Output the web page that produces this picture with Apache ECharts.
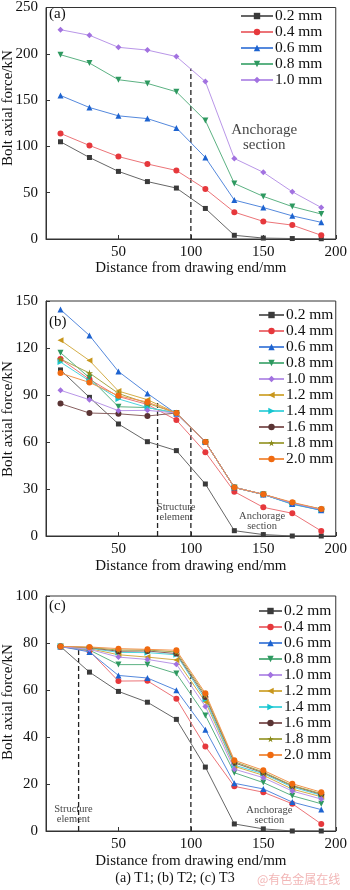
<!DOCTYPE html>
<html><head><meta charset="utf-8">
<script src="https://cdn.jsdelivr.net/npm/echarts@6/dist/echarts.min.js"></script>
<style>html,body{margin:0;padding:0;background:#fff}#c{width:350px;height:890px}</style>
</head><body><div id="c"></div>
<script>
const xs = [10, 30, 50, 70, 90, 110, 130, 150, 170, 190];
const namesA = ['0.2 mm','0.4 mm','0.6 mm','0.8 mm','1.0 mm'];
const namesBC = ['0.2 mm','0.4 mm','0.6 mm','0.8 mm','1.0 mm','1.2 mm','1.4 mm','1.6 mm','1.8 mm','2.0 mm'];

// Panel (a) T1
const a02 = [105, 88, 73, 62, 55, 33, 4, 1, 0.5, 0.3];
const a04 = [114, 101, 89, 81, 74, 54, 29, 19, 15, 4];
const a06 = [155, 142, 133, 130, 120, 88, 42, 34, 25, 18];
const a08 = [199, 190, 172, 168, 159, 128, 60, 46, 35, 27];
const a10 = [226, 220, 207, 204, 197, 170, 87, 72, 51, 34];

// Panel (b) T2
const b02 = [106, 88.5, 71.5, 60.2, 54.5, 33.2, 3.4, 0.9, 0, 0];
const b04 = [113, 100, 89, 84, 74, 53.5, 28.3, 18.3, 14.5, 3.2];
const b06 = [144.5, 128, 105, 91, 78, 60, 31, 26.5, 20.5, 16.4];
const b08 = [117, 101, 82.5, 82, 78.5, 60, 31, 26.5, 20.5, 16.6];
const b10 = [93, 87, 80, 80.2, 78.5, 60, 31, 26.6, 21, 17];
const b12 = [125, 112, 92.5, 87, 78.5, 60, 31, 26.6, 21, 17];
const b14 = [111, 99, 87.5, 82, 78.5, 60, 31, 26.5, 20.2, 16.4];
const b16 = [84.5, 78.5, 78, 76.6, 78.5, 60, 31, 26.6, 21, 17];
const b18 = [113, 104, 91, 84.7, 78.5, 60, 31, 26.6, 21, 17.2];
const b20 = [104, 98, 89.5, 85.5, 78.5, 60, 31, 26.6, 21.5, 17.2];

// Panel (c) T3
const c02 = [78.5, 67.6, 59.4, 54.8, 47.5, 27.2, 3, 0.9, 0, 0];
const c04 = [78.5, 76.6, 63.8, 63.9, 56.3, 36, 19, 16.5, 11.6, 3];
const c06 = [78.5, 76.2, 66.2, 65.1, 59.9, 43.1, 20.3, 17.9, 12.3, 9.1];
const c08 = [78.5, 77, 70.8, 70.8, 67, 49.2, 24.8, 20.6, 15, 11.6];
const c10 = [78.5, 77.3, 74, 73, 71, 53, 26.3, 22.7, 17, 13.6];
const c12 = [78.5, 77.6, 75, 74, 72.8, 55, 27.5, 23.7, 17.8, 14.6];
const c14 = [78.5, 77.8, 76, 75.9, 75, 56, 28, 24.4, 18.7, 15.2];
const c16 = [78.5, 78, 76.5, 76.6, 75.5, 57, 29, 24.8, 19.2, 15.6];
const c18 = [78.5, 78.1, 77, 77, 76.2, 57.8, 29.5, 25.1, 19.4, 15.9];
const c20 = [78.5, 78.3, 77.6, 77.3, 76.9, 58.6, 30.1, 25.8, 20.1, 16.5];

// y-axis ticks
const yMaxA = 250, yStepA = 50;
const yMaxB = 150, yStepB = 30;
const yMaxC = 100, yStepC = 20;

// dashed divider lines: [x, top value]
const dividersA = [[100, 184]];
const dividersB = [[77, 86], [100, 69]];
const dividersC = [[22.5, 78.3], [100, 68]];

// annotations: [x, y, text]
const notesA = [[150.6, 110, 'Anchorage\nsection']];
const notesB = [[89.8, 15.1, 'Structure\nelement'], [149.2, 9.5, 'Anchorage\nsection']];
const notesC = [[18.9, 7.2, 'Structure\nelement'], [154.2, 6.8, 'Anchorage\nsection']];

const STAR = 'path://M50,0 L61,35 L98,35 L68,57 L79,91 L50,70 L21,91 L32,57 L2,35 L39,35 Z';
const style = {
  '0.2 mm': {m:'#3a3a3a', l:'#666666', s:'rect', r:0, z:5},
  '0.4 mm': {m:'#e6383c', l:'#ec7478', s:'circle', r:0, z:6},
  '0.6 mm': {m:'#1d63d0', l:'#5589dd', s:'triangle', r:0, z:7},
  '0.8 mm': {m:'#2e9960', l:'#5cb283', s:'triangle', r:180, z:6},
  '1.0 mm': {m:'#a272e0', l:'#b996e8', s:'diamond', r:0, z:7},
  '1.2 mm': {m:'#c8961c', l:'#d4ae48', s:'triangle', r:90, z:6},
  '1.4 mm': {m:'#16c6d0', l:'#4ed5de', s:'triangle', r:-90, z:6},
  '1.6 mm': {m:'#5a3434', l:'#886060', s:'circle', r:0, z:6},
  '1.8 mm': {m:'#8a8a1a', l:'#a6a64a', s:STAR, r:0, z:6},
  '2.0 mm': {m:'#f06a10', l:'#f2944d', s:'circle', r:0, z:8}
};
const FONT = '"Liberation Serif", "Times New Roman", serif';
const AX = '#333';

const grids = [
  {left: 46, top: 4, width: 292, height: 235},
  {left: 46, top: 301, width: 292, height: 235},
  {left: 46, top: 596, width: 292, height: 235}
];

function xAxis(i) {
  return {
    gridIndex: i, type: 'value', min: 0, max: 200, interval: 50,
    name: 'Distance from drawing end/mm', nameLocation: 'middle', nameGap: i === 0 ? 22 : 23,
    nameTextStyle: {fontFamily: FONT, fontSize: 15, color: '#111'},
    axisLine: {lineStyle: {color: AX, width: 1}},
    axisTick: {inside: true, length: 4, lineStyle: {color: AX}},
    axisLabel: {showMinLabel: false, fontFamily: FONT, fontSize: 15, color: '#111', margin: 6},
    splitLine: {show: false}
  };
}
function yAxis(i, max, step) {
  return {
    gridIndex: i, type: 'value', min: 0, max: max, interval: step,
    axisLine: {show: true, lineStyle: {color: AX, width: 1}},
    axisTick: {inside: true, length: 4, lineStyle: {color: AX}},
    axisLabel: {fontFamily: FONT, fontSize: 15, color: '#111', margin: 8},
    splitLine: {show: false}
  };
}

const series = [];
function addData(i, names, arrays) {
  names.forEach((n, k) => {
    const st = style[n];
    series.push({
      type: 'line', name: n, xAxisIndex: i, yAxisIndex: i,
      data: xs.map((x, j) => [x, arrays[k][j]]),
      symbol: st.s, symbolRotate: st.r,
      symbolSize: st.s === 'rect' ? 5 : (st.s === STAR ? 7 : 6),
      lineStyle: {color: st.l, width: 1},
      itemStyle: {color: st.m},
      z: st.z, animation: false
    });
  });
}
function addDividers(i, divs) {
  divs.forEach(d => {
    series.push({
      type: 'line', xAxisIndex: i, yAxisIndex: i, data: [[d[0], 0], [d[0], d[1]]],
      symbol: 'none', silent: true, z: 3, animation: false,
      lineStyle: {color: '#222', width: 1.3, type: [5, 3]}
    });
  });
}
function addNotes(i, notes, fs) {
  series.push({
    type: 'scatter', xAxisIndex: i, yAxisIndex: i, symbolSize: 0, silent: true, animation: false,
    data: notes.map(n => ({value: [n[0], n[1]], label: {formatter: n[2]}})),
    label: {show: true, position: 'inside', fontFamily: FONT, fontSize: fs, lineHeight: fs, color: '#111', align: 'center'}
  });
}

addData(0, namesA, [a02, a04, a06, a08, a10]);
addData(1, namesBC, [b02, b04, b06, b08, b10, b12, b14, b16, b18, b20]);
addData(2, namesBC, [c02, c04, c06, c08, c10, c12, c14, c16, c18, c20]);
addDividers(0, dividersA); addDividers(1, dividersB); addDividers(2, dividersC);
addNotes(0, notesA, 15); addNotes(1, notesB, 10.5); addNotes(2, notesC, 10.5);

function legend(names, left, top, w) {
  return {
    data: names, left: left, top: top, orient: 'vertical', itemWidth: w, itemHeight: 8,
    itemGap: 0, padding: 0, selectedMode: false,
    textStyle: {fontFamily: FONT, fontSize: 15.5, lineHeight: 15, color: '#111', padding: [0, 0, 0, -3]}
  };
}

function ytitle(y) {
  return {type: 'text', x: 8, y: y, rotation: Math.PI / 2,
    style: {text: 'Bolt axial force/kN', font: '15px ' + FONT, fill: '#111', textAlign: 'center', textVerticalAlign: 'middle'}};
}

const chart = echarts.init(document.getElementById('c'), null, {renderer: 'canvas'});
chart.setOption({
  animation: false,
  backgroundColor: '#fff',
  grid: grids.map(g => Object.assign({show: true, borderColor: AX, borderWidth: 1, backgroundColor: 'transparent'}, g)),
  xAxis: [xAxis(0), xAxis(1), xAxis(2)],
  yAxis: [yAxis(0, yMaxA, yStepA), yAxis(1, yMaxB, yStepB), yAxis(2, yMaxC, yStepC)],
  legend: [
    legend(namesA, 240, 8, 32),
    legend(namesBC, 258, 307, 25),
    legend(namesBC, 258, 603, 23)
  ],
  graphic: [
    ytitle(108), ytitle(419), ytitle(702),
    {type: 'text', x: 49, y: 14, style: {text: '(a)', font: '15px ' + FONT, fill: '#111', textVerticalAlign: 'middle'}},
    {type: 'text', x: 49, y: 322, style: {text: '(b)', font: '15px ' + FONT, fill: '#111', textVerticalAlign: 'middle'}},
    {type: 'text', x: 49, y: 606, style: {text: '(c)', font: '15px ' + FONT, fill: '#111', textVerticalAlign: 'middle'}},
    {type: 'text', x: 175, y: 878, style: {text: '(a) T1; (b) T2; (c) T3', font: '14px ' + FONT, fill: '#111', textAlign: 'center', textVerticalAlign: 'middle'}},
    {type: 'text', x: 257, y: 879, style: {text: '@有色金属在线', font: '12px "Noto Sans CJK SC", sans-serif', fill: '#f2b6b6', textVerticalAlign: 'middle'}}
  ],
  series: series
});
</script>
</body></html>
